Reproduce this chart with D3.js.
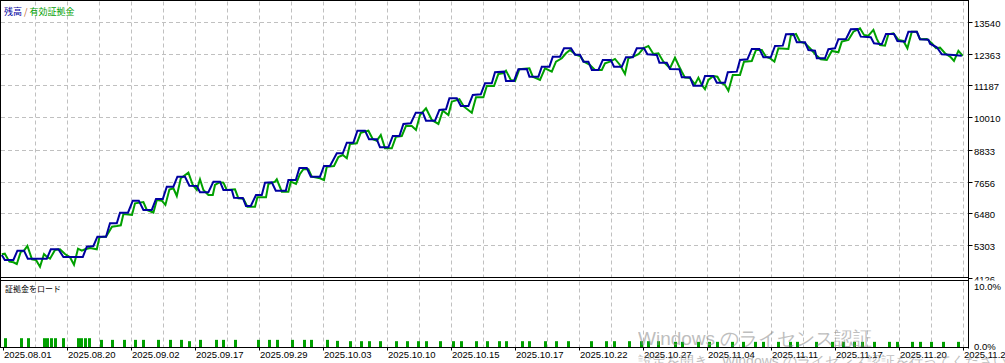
<!DOCTYPE html>
<html>
<head>
<meta charset="utf-8">
<script src="https://cdn.jsdelivr.net/npm/d3@7"></script>
<style>
  body { margin: 0; background: #fff; }
  text { font-family: "Liberation Sans", Arial, sans-serif; }
</style>
</head>
<body>
<div id="bdy"></div>
<script>
var width = 1005;
var height = 363;

// balance (step-like) : [deal index, value]
var balance = [
  [0.9,4954],[2.4,4770],[6.7,4770],[8.7,5112],[12,5112],[13.9,4817],[23.4,4817],[25.4,5163],
  [29.2,5163],[31.7,4880],[41.4,4880],[43.4,5259],[46.7,5285],[48.7,5627],[53,5627],[55,6119],
  [58.4,6119],[60,6509],[64,6509],[66.4,6951],[69.4,6951],[71.7,6609],[75.9,6609],[78,7013],
  [81.4,7013],[83.4,7466],[86.7,7466],[88.7,7833],[92.5,7833],[94.7,7502],[98.4,7491],[100,7260],
  [104.2,7260],[106.7,7650],[110,7650],[111.7,7344],[115.9,7344],[117,7061],[121.4,7050],[123,6756],
  [125.4,6756],[128,7160],[130.9,7160],[132.5,7613],[135.9,7627],[137.9,7319],[142.9,7319],[144.2,7712],
  [147.9,7712],[149.7,8153],[153.4,8153],[155.4,7833],[160,7833],[162,8227],[165,8227],[168.4,8694],
  [171.4,8694],[173.4,9084],[176.7,9084],[178.7,9525],[182.5,9525],[184.5,9209],[188.4,9209],[190,8915],
  [194.2,8915],[196.4,9330],[199.7,9330],[201.7,9772],[205.4,9797],[207.9,10187],[211.4,10187],[213,9893],
  [217.5,9893],[219.7,10287],[223,10313],[224.7,10717],[228.4,10717],[230.4,10434],[234.2,10434],[236.4,10838],
  [240.4,10864],[242.5,11269],[245.9,11269],[247.5,11673],[252,11695],[253,11353],[257,11353],[259.2,11784],
  [263.4,11795],[264.7,11511],[269.2,11511],[270.9,11879],[274.7,11879],[276.4,12247],[280,12247],[282,12556],
  [285.5,12556],[287.5,12321],[290,12321],[291.7,12063],[294.2,12063],[295.9,11758],[299.2,11758],[301.4,12126],
  [305.4,12126],[307,11879],[310.9,11879],[313,12225],[316.4,12225],[318.4,12556],[322,12556],[323.7,12335],
  [328.4,12309],[329.7,12026],[333.4,12026],[335,11795],[339.7,11784],[340.9,11489],[345,11489],[346.7,11180],
  [350.9,11180],[352.5,11537],[356.7,11537],[358.4,11291],[362.5,11291],[363.9,11673],[368.4,11695],[370,12126],
  [373.7,12151],[375.9,12530],[379.7,12530],[381.7,12225],[385.4,12225],[387.5,12641],[391.4,12652],[393,13071],
  [396.7,13082],[398.4,12777],[402.5,12777],[404.2,12493],[407.5,12468],[408.4,12188],[412.5,12188],[414.2,12519],
  [417.5,12556],[419.2,12887],[423,12898],[425.4,13255],[428.7,13266],[430.4,12983],[435.4,12961],[437,12740],
  [440.9,12703],[443,13082],[447,13082],[448.7,12824],[452.5,12799],[454.2,13167],[458.4,13167],[460,12887],
  [464.2,12872],[465,12725],[468.4,12593],[470.9,12335],[476.7,12309],[480.9,12284]
];

// equity : [deal index, value]
var equity = [
  [0.9,4979],[2.4,5001],[4.7,4707],[6.7,4685],[8.4,4623],[10.4,5075],[12,5112],[13.7,5285],
  [16,4795],[18,4770],[20,4523],[22,4990],[23.4,4891],[25,4817],[27.5,5137],[30,5163],
  [32.5,4990],[35,4869],[37,4597],[39,5185],[40.9,5112],[42.5,5163],[45,5211],[48.4,5163],
  [49.7,5605],[51.7,5627],[53,5627],[56,5994],[58.4,6020],[60.4,6046],[61.7,6462],[66,6425],
  [67.5,6855],[71.7,6903],[73.4,6609],[76.7,6509],[78.4,6976],[80.9,6951],[82.7,6793],[84.7,7360],
  [86.7,7407],[88.4,7124],[90.4,7775],[94.2,7981],[96.4,7528],[98.4,7344],[100,7738],[101.7,7344],
  [104.2,7160],[106.4,7160],[107.5,7528],[109.7,7627],[111.7,7613],[113.4,7344],[117.5,7370],[119.2,7039],
  [121.7,7024],[123.7,6730],[127.5,6730],[128.7,7076],[133,7076],[134.2,7565],[137.5,7650],[138.4,7738],
  [140.9,7282],[144.2,7282],[145.4,7650],[148,7565],[150,7933],[151.7,8106],[154.2,8106],[155.9,7833],
  [160,7775],[162,7712],[163.4,8201],[167,8227],[169.2,8558],[171.4,8632],[173.4,8510],[175,9036],
  [178.4,9062],[180.4,9452],[184.2,9525],[186.4,9209],[188.4,9157],[190.4,9367],[192.5,8878],[195.9,8878],
  [198,9305],[200.9,9330],[203,9698],[205.9,9698],[208,9551],[210,10103],[213,10349],[215.9,9919],
  [219.2,9772],[221.4,10261],[224.2,10103],[225.9,10592],[229.7,10680],[232,10408],[235.9,10187],[238,10754],
  [241.7,10754],[243.4,11169],[247,11169],[249.2,11611],[252,11647],[253,11732],[255.4,11390],[257.5,11353],
  [259.7,11784],[264.7,11820],[266.4,11511],[270,11390],[272.5,11820],[275.9,11695],[278,12063],[280.9,12188],
  [283,12372],[285,12493],[288,12310],[290,12273],[292,12063],[295,11942],[297.5,11758],[300.9,11758],
  [302.5,12004],[305,12063],[307.5,12162],[310,11942],[312.5,11611],[314.2,12188],[316.7,12247],[319.2,12335],
  [321.7,12556],[324.2,12641],[326.7,12346],[329.2,12372],[331.7,12063],[335,11820],[337.5,12210],[339.2,11942],
  [340.9,11695],[342.5,11475],[345,11464],[347.5,11232],[349.2,11475],[350.9,11206],[352.5,11048],[354.2,11390],
  [356.7,11537],[358.7,11511],[360.4,11291],[362.5,11206],[364.2,10996],[366.4,11574],[370,11574],[372,12063],
  [375.9,12089],[378,12493],[380.9,12493],[383,12247],[385,12188],[387.2,12063],[389.2,12556],[394.2,12530],
  [395.4,13019],[398,13082],[400,12799],[402.5,12740],[405,12556],[408,12310],[410.4,12151],[413.4,12126],
  [415.9,12457],[419.2,12409],[420.9,12799],[424.2,12861],[426.7,13167],[430,13292],[432,13045],[434.2,13019],
  [436.7,13229],[438.4,12898],[440,12677],[442.5,12652],[444.2,13071],[446.7,13108],[449.2,12861],[451.7,12824],
  [453.7,12556],[455.9,13167],[458.4,13167],[460,12887],[463.4,12898],[465.9,12740],[468,12556],[470,12578],
  [472.5,12372],[475.4,12225],[477,12089],[479.2,12457],[481.4,12273]
];

// margin load (%) : [deal index, value]
var marginLoad = [
  [2.4,1.4],[10.4,1.4],[13.9,1.4],[21.9,1.4],[23.5,1.4],[25.4,1.4],[27.4,1.4],[31.4,1.4],
  [38.9,1.4],[40.5,1.4],[42.5,1.4],[44.4,1.4],[50.4,1.15],[56,1.15],[61.9,1.15],[67.5,1.15],
  [71.4,1.15],[79,1.15],[85,1.15],[90.5,1.15],[94.4,0.95],[99.9,1.15],[107.9,1.15],[111.4,1.15],
  [117.7,1.15],[128.9,1.15],[134.4,1.15],[138.4,1.15],[146,1.15],[151.9,1.15],[155.4,1.15],[163.4,1.15],
  [168.7,1.0],[175,0.95],[180.5,0.95],[184.5,0.95],[190,0.95],[198,0.95],[203.4,0.95],[208.9,0.95],
  [212.9,0.95],[220,0.95],[226.4,0.95],[230.4,0.95],[238,0.95],[243.4,0.95],[249.5,0.95],[252.9,0.95],
  [260.9,0.95],[264.5,0.95],[272.5,0.95],[278,0.95],[283.9,0.95],[295.4,0.95],[303,0.95],[306.9,0.95],
  [314.5,0.95],[320.4,0.95],[324.2,0.95],[329.2,0.95],[337.5,0.85],[340.9,0.85],[348.9,0.85],[354.5,0.85],
  [358.4,0.85],[365.9,0.85],[371.7,0.85],[377.5,0.85],[381.4,0.85],[389.2,0.85],[394.9,0.85],[398.5,0.85],
  [408.2,0.85],[415.9,0.85],[421.7,0.85],[427.2,0.85],[430.9,0.85],[437,0.85],[444.5,0.85],[448.4,0.85],
  [455.9,0.85],[459.9,0.85],[465.5,0.85],[471.5,0.85],[478.9,0.85]
];

var yTicks = [4126, 5303, 6480, 7656, 8833, 10010, 11187, 12363, 13540];
var dateLabels = ["2025.08.01","2025.08.20","2025.09.02","2025.09.17","2025.09.29","2025.10.03",
  "2025.10.10","2025.10.15","2025.10.17","2025.10.22","2025.10.27","2025.11.04","2025.11.11",
  "2025.11.17","2025.11.20","2025.11.24"];
// deal index of every labelled date, grid every 16 deals
var dateIdx = dateLabels.map(function(d, i) { return 1.5 + 32 * i; });
var gridIdx = d3.range(1, 31).map(function(k) { return 1.5 + 16 * k; });

var plotRight = 968.5;
var mainTop = 0.5, mainBottom = 277.5;
var subTop = 280.5, subBottom = 347.5;

var xScale = d3.scaleLinear().domain([0, 484]).range([0, 968]);
var yScale = d3.scaleLinear().domain([4126, 13540]).range([277.5, 21.5]);
var ySub = d3.scaleLinear().domain([0, 10]).range([subBottom, 281]);

var svg = d3.select('#bdy').append('svg')
    .attr('width', width)
    .attr('height', height)
    .style('display', 'block')
    .style('background', '#fff');

svg.append('defs').append('clipPath').attr('id', 'mainClip')
  .append('rect').attr('x', 0).attr('y', 0).attr('width', width).attr('height', 280.5);

// grid
var grid = svg.append('g')
    .attr('stroke', '#c0c0c0')
    .attr('stroke-width', 1)
    .attr('stroke-dasharray', '4,3');

grid.selectAll('.hgrid')
    .data(yTicks.slice(1))
    .enter().append('line')
      .attr('x1', 1).attr('x2', plotRight)
      .attr('y1', function(d) { return Math.round(yScale(d)) + 0.5; })
      .attr('y2', function(d) { return Math.round(yScale(d)) + 0.5; });

grid.selectAll('.vgrid')
    .data(gridIdx)
    .enter().append('line')
      .attr('x1', function(d) { return Math.round(xScale(d)) + 0.5; })
      .attr('x2', function(d) { return Math.round(xScale(d)) + 0.5; })
      .attr('y1', mainTop + 1).attr('y2', mainBottom);

grid.selectAll('.vgrid2')
    .data(gridIdx)
    .enter().append('line')
      .attr('x1', function(d) { return Math.round(xScale(d)) + 0.5; })
      .attr('x2', function(d) { return Math.round(xScale(d)) + 0.5; })
      .attr('y1', subTop + 1).attr('y2', subBottom);

// lines
var line = d3.line()
    .x(function(d) { return xScale(d[0]); })
    .y(function(d) { return yScale(d[1]); });

svg.append('path')
    .datum(equity)
    .attr('d', line)
    .attr('fill', 'none')
    .attr('stroke', '#00a000')
    .attr('stroke-width', 2)
    .attr('stroke-linejoin', 'miter');

svg.append('path')
    .datum(balance)
    .attr('d', line)
    .attr('fill', 'none')
    .attr('stroke', '#0000a0')
    .attr('stroke-width', 2)
    .attr('stroke-linejoin', 'miter');

// margin load bars
svg.selectAll('.bar')
    .data(marginLoad)
    .enter().append('rect')
      .attr('class', 'bar')
      .attr('x', function(d) { return Math.round(xScale(d[0])) - 1; })
      .attr('width', 3)
      .attr('y', function(d) { return ySub(d[1]); })
      .attr('height', function(d) { return subBottom - ySub(d[1]); })
      .attr('fill', '#00a000');

// frames
var frame = svg.append('g').attr('stroke', '#000').attr('stroke-width', 1).attr('fill', 'none');
frame.append('line').attr('x1', 0).attr('x2', plotRight).attr('y1', mainTop).attr('y2', mainTop);
frame.append('line').attr('x1', 0.5).attr('x2', 0.5).attr('y1', 0).attr('y2', subBottom);
frame.append('line').attr('x1', 0).attr('x2', plotRight).attr('y1', mainBottom).attr('y2', mainBottom);
frame.append('line').attr('x1', 0).attr('x2', plotRight).attr('y1', subTop).attr('y2', subTop);
frame.append('line').attr('x1', 0).attr('x2', plotRight).attr('y1', subBottom).attr('y2', subBottom);
frame.append('line').attr('x1', plotRight).attr('x2', plotRight).attr('y1', 0).attr('y2', subBottom + 1);

// right axis
var yAxis = svg.append('g').attr('clip-path', 'url(#mainClip)');
yAxis.selectAll('.ytick')
    .data(yTicks)
    .enter().append('line')
      .attr('x1', plotRight).attr('x2', plotRight + 4)
      .attr('y1', function(d) { return Math.round(yScale(d)) + 0.5; })
      .attr('y2', function(d) { return Math.round(yScale(d)) + 0.5; })
      .attr('stroke', '#000');
yAxis.selectAll('.ylab')
    .data(yTicks)
    .enter().append('text')
      .attr('x', 974)
      .attr('y', function(d) { return yScale(d) + 5; })
      .style('font-size', '9.5px')
      .attr('fill', '#000')
      .text(function(d) { return d; });

svg.append('text').attr('x', 974).attr('y', 290)
    .style('font-size', '9.5px').text('10.0%');
svg.append('text').attr('x', 974).attr('y', 350)
    .style('font-size', '9.5px').text('0.0%');

// bottom axis
svg.selectAll('.xtick')
    .data(dateIdx)
    .enter().append('line')
      .attr('x1', function(d) { return Math.round(xScale(d)) + 0.5; })
      .attr('x2', function(d) { return Math.round(xScale(d)) + 0.5; })
      .attr('y1', subBottom).attr('y2', subBottom + 3)
      .attr('stroke', '#000');
svg.selectAll('.xlab')
    .data(dateLabels)
    .enter().append('text')
      .attr('x', function(d, i) { return xScale(dateIdx[i]) + 1; })
      .attr('y', 357.5)
      .style('font-size', '9.5px')
      .attr('fill', '#000')
      .text(function(d) { return d; });

// titles
var title = svg.append('text')
    .attr('x', 4).attr('y', 15)
    .style('font-family', '"Noto Sans CJK JP", sans-serif')
    .style('font-size', '9px');
title.append('tspan').attr('fill', '#0000a0').text('残高');
title.append('tspan').attr('fill', '#c06020').text(' / ');
title.append('tspan').attr('fill', '#00a000').text('有効証拠金');

svg.append('text')
    .attr('x', 5).attr('y', 292)
    .style('font-family', '"Noto Sans CJK JP", sans-serif')
    .style('font-size', '8px')
    .attr('fill', '#000')
    .text('証拠金をロード');

// os watermark seen over the screenshot
var wm = svg.append('g')
    .attr('fill', '#8a8a8a')
    .attr('opacity', 0.55)
    .style('font-family', '"Noto Sans CJK JP", sans-serif');
wm.append('text').attr('x', 638).attr('y', 345).style('font-size', '19px')
    .text('Windows のライセンス認証');
wm.append('text').attr('x', 638).attr('y', 366).style('font-size', '14px')
    .text('設定を開き、Windows のライセンス認証を行ってください。');
</script>
</body>
</html>
